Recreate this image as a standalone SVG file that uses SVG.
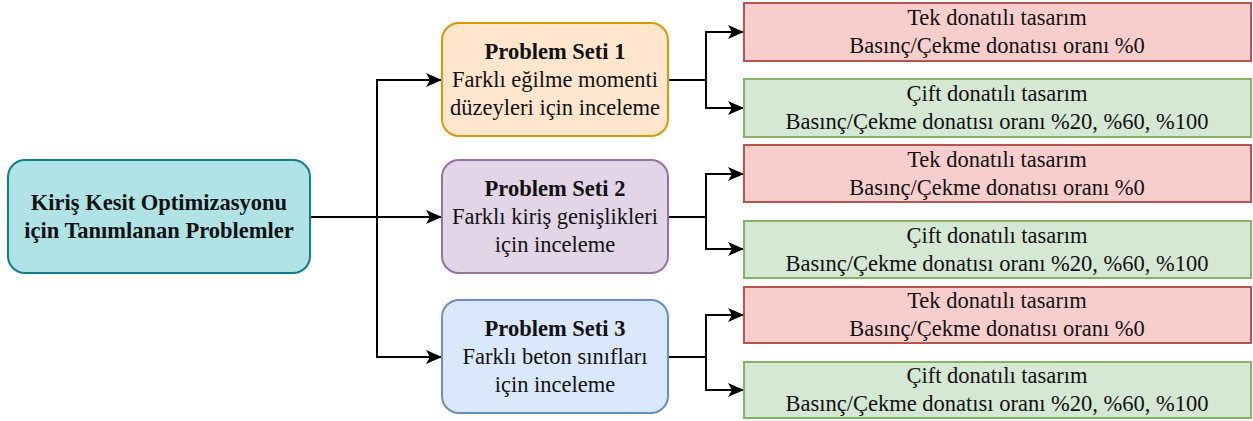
<svg xmlns="http://www.w3.org/2000/svg" width="1253" height="421" viewBox="0 0 1253 421">
<defs>
<marker id="arr" markerUnits="userSpaceOnUse" markerWidth="18" markerHeight="16" refX="16" refY="7" orient="auto" viewBox="0 0 18 16">
<path d="M0,0 L16,7 L0,14 L4,7 Z" fill="#000"/>
</marker>
<style>
text{font-family:"Liberation Serif","Times New Roman",serif;font-size:22.5px;fill:#111;text-anchor:middle}
.b{font-weight:bold}
.main{fill:#b0e3e6;stroke:#0e8088;stroke-width:2}
.s1{fill:#ffe6cc;stroke:#d79b00;stroke-width:2}
.s2{fill:#e1d5e7;stroke:#9673a6;stroke-width:2}
.s3{fill:#dae8fc;stroke:#6c8ebf;stroke-width:2}
.red{fill:#f8cecc;stroke:#b85450;stroke-width:2}
.green{fill:#d5e8d4;stroke:#82b366;stroke-width:2}
.c{fill:none;stroke:#000;stroke-width:2;marker-end:url(#arr)}
</style>
</defs>
<rect width="1253" height="421" fill="#fff"/>
<g id="connectors">
<path class="c" d="M310,217 H442"/>
<path class="c" d="M377,217 V80 H442"/>
<path class="c" d="M377,217 V357 H442"/>
<path class="c" d="M668,80 H706 V32 H744"/>
<path class="c" d="M706,80 V108 H744"/>
<path class="c" d="M668,217 H706 V174 H744"/>
<path class="c" d="M706,217 V249 H744"/>
<path class="c" d="M668,357 H706 V315 H744"/>
<path class="c" d="M706,357 V390 H744"/>
</g>
<g id="main">
<rect class="main" x="8" y="160" width="302" height="113" rx="17"/>
<text class="b" x="159" y="210">Kiriş Kesit Optimizasyonu</text>
<text class="b" x="159" y="238">için Tanımlanan Problemler</text>
</g>
<g id="set1">
<rect class="s1" x="442" y="23" width="226" height="113" rx="17"/>
<text class="b" x="555" y="59">Problem Seti 1</text>
<text x="555" y="87">Farklı eğilme momenti</text>
<text x="555" y="115">düzeyleri için inceleme</text>
</g>
<g id="set2">
<rect class="s2" x="442" y="160" width="226" height="113" rx="17"/>
<text class="b" x="555" y="196">Problem Seti 2</text>
<text x="555" y="224">Farklı kiriş genişlikleri</text>
<text x="555" y="252">için inceleme</text>
</g>
<g id="set3">
<rect class="s3" x="442" y="300" width="226" height="113" rx="17"/>
<text class="b" x="555" y="336">Problem Seti 3</text>
<text x="555" y="364">Farklı beton sınıfları</text>
<text x="555" y="392">için inceleme</text>
</g>
<g id="tek1">
<rect class="red" x="744" y="3" width="507" height="58"/>
<text x="997" y="25">Tek donatılı tasarım</text>
<text x="997" y="53">Basınç/Çekme donatısı oranı %0</text>
</g>
<g id="cift1">
<rect class="green" x="744" y="79" width="507" height="58"/>
<text x="997" y="101">Çift donatılı tasarım</text>
<text x="997" y="129">Basınç/Çekme donatısı oranı %20, %60, %100</text>
</g>
<g id="tek2">
<rect class="red" x="744" y="145" width="507" height="57"/>
<text x="997" y="167">Tek donatılı tasarım</text>
<text x="997" y="195">Basınç/Çekme donatısı oranı %0</text>
</g>
<g id="cift2">
<rect class="green" x="744" y="221" width="507" height="57"/>
<text x="997" y="243">Çift donatılı tasarım</text>
<text x="997" y="271">Basınç/Çekme donatısı oranı %20, %60, %100</text>
</g>
<g id="tek3">
<rect class="red" x="744" y="287" width="507" height="56"/>
<text x="997" y="308">Tek donatılı tasarım</text>
<text x="997" y="336">Basınç/Çekme donatısı oranı %0</text>
</g>
<g id="cift3">
<rect class="green" x="744" y="362" width="507" height="56"/>
<text x="997" y="383">Çift donatılı tasarım</text>
<text x="997" y="411">Basınç/Çekme donatısı oranı %20, %60, %100</text>
</g>
</svg>
